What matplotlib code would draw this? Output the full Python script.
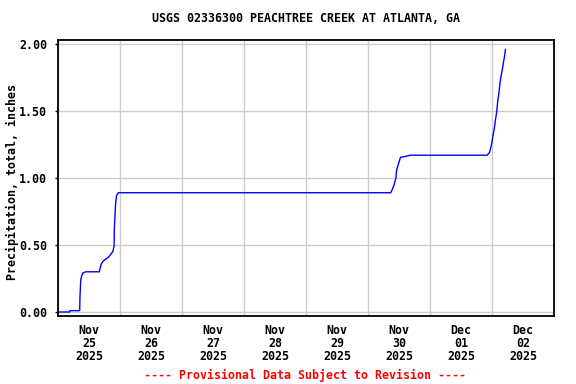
import matplotlib
matplotlib.use("Agg")
import matplotlib.pyplot as plt
import matplotlib.dates as mdates
import numpy as np
import pandas as pd

title = "USGS 02336300 PEACHTREE CREEK AT ATLANTA, GA"
ylabel = "Precipitation, total, inches"
footer = "---- Provisional Data Subject to Revision ----"
start = pd.Timestamp("2025-11-25 00:00")
end = pd.Timestamp("2025-12-03 00:00")

hours = [0, 4.5, 4.6, 8.4, 8.5, 8.8, 9.2, 9.6, 10.7, 16.0, 16.2, 16.8, 17.5, 18.9, 19.6,
         20.4, 21.2, 21.7, 21.8, 22.1, 22.3, 22.7, 23.3, 128.8, 129.3, 130.1, 130.8,
         131.1, 132.0, 132.6, 134.3, 136.3, 166.1, 167.0, 167.6, 168.1, 168.5, 168.9,
         169.3, 169.8, 170.2, 170.7, 171.1, 171.5, 172.0, 172.4, 172.8, 173.2]
precip = [0.00, 0.00, 0.01, 0.01, 0.11, 0.24, 0.27, 0.29, 0.30, 0.30, 0.32, 0.36, 0.38,
          0.40, 0.41, 0.43, 0.45, 0.49, 0.61, 0.74, 0.81, 0.87, 0.89, 0.89, 0.91, 0.95,
          1.00, 1.06, 1.12, 1.155, 1.16, 1.17, 1.17, 1.19, 1.23, 1.28, 1.33, 1.37, 1.43,
          1.49, 1.57, 1.64, 1.71, 1.76, 1.81, 1.86, 1.90, 1.96]
yticks = [0.0, 0.5, 1.0, 1.5, 2.0]

times = [start + pd.Timedelta(hours=h) for h in hours]

font = "DejaVu Sans Mono"
fs = 8.4

fig = plt.figure(figsize=(5.76, 3.84), dpi=100)
ax = fig.add_axes([58/576, 1-316/384, (554-58)/576, (316-40)/384])

ax.plot(times, precip, color="#0000ff", linewidth=1.0)

ax.set_xlim(start, end)
ax.set_ylim(-0.03, 2.03)
ax.set_yticks(yticks)
ax.set_yticklabels([f"{v:.2f}" for v in yticks], fontfamily=font, fontweight="bold", fontsize=fs)

ax.xaxis.set_major_locator(mdates.DayLocator())
ax.xaxis.set_major_formatter(plt.NullFormatter())
ax.xaxis.set_minor_locator(mdates.HourLocator(byhour=[12]))
ax.xaxis.set_minor_formatter(mdates.DateFormatter("%b\n%d\n%Y"))
ax.tick_params(axis="x", which="both", length=0, pad=6)
ax.tick_params(axis="y", length=2, width=1, pad=6)
for lbl in ax.xaxis.get_minorticklabels():
    lbl.set_fontfamily(font)
    lbl.set_fontweight("bold")
    lbl.set_fontsize(fs)
    lbl.set_linespacing(0.97)

ax.grid(True, which="major", color="#cccccc", linewidth=1.0)
ax.set_axisbelow(True)
for s in ax.spines.values():
    s.set_linewidth(1.3)

fig.text(12/576, 1-182/384, ylabel, rotation=90, ha="center", va="center",
         fontfamily=font, fontweight="bold", fontsize=fs)
fig.text(306/576, 1-19/384, title, ha="center", va="center", fontfamily=font, fontweight="bold", fontsize=fs)
fig.text(305/576, 1-375/384, footer, ha="center", va="center", fontfamily=font, fontweight="bold",
         fontsize=fs, color="red")

fig.savefig("out.png", dpi=100)
